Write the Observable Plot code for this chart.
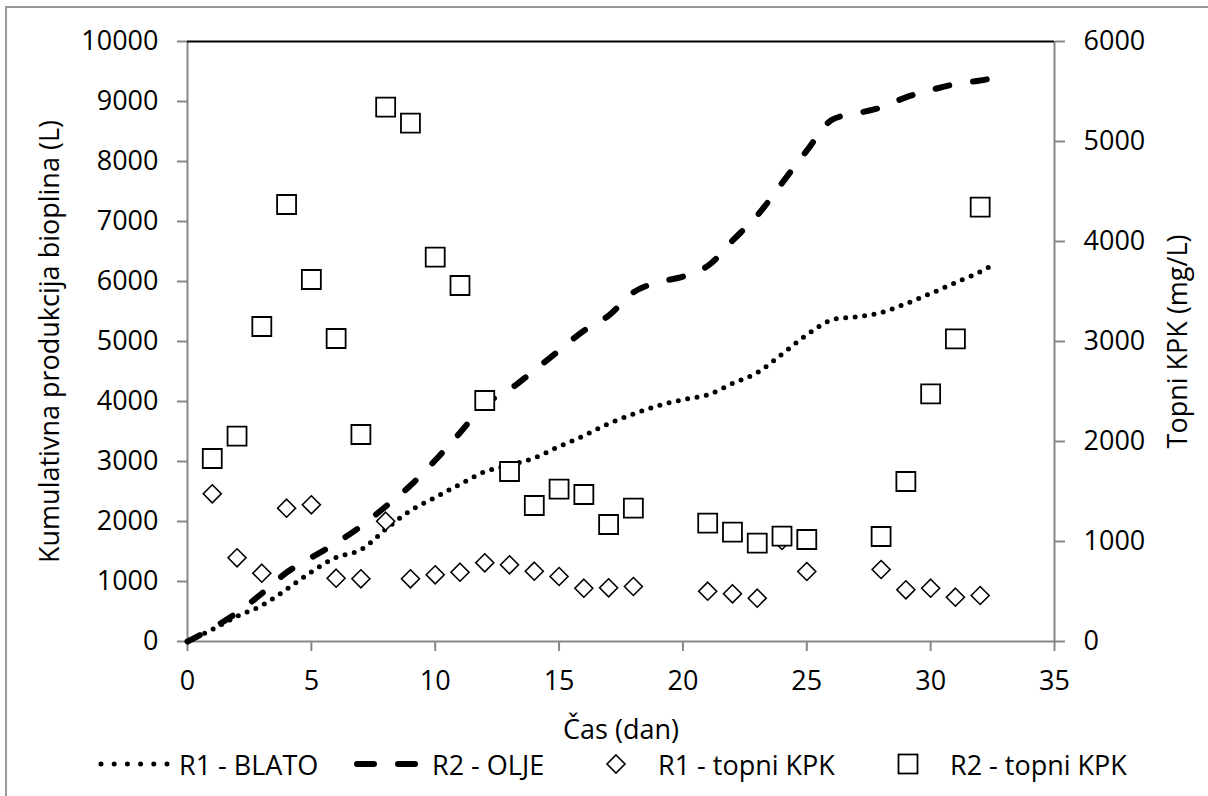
<!DOCTYPE html>
<html>
<head>
<meta charset="utf-8">
<script src="https://cdn.jsdelivr.net/npm/d3@7"></script>
<script src="https://cdn.jsdelivr.net/npm/@observablehq/plot@0.6"></script>
<style>
  body { margin: 0; background: #fff; }
  #wrap { position: relative; width: 1208px; height: 796px; overflow: hidden; background: #fff; font-family: "Open Sans", sans-serif; }
  #frame { position: absolute; left: 5px; top: 6px; width: 1400px; height: 1000px; border: 2px solid #9a9a9a; box-sizing: border-box; }
  #chart { position: absolute; left: 0; top: 0; }
  .lg { position: absolute; top: 744px; height: 40px; display: flex; align-items: center; font-size: 27px; color: #000; white-space: nowrap; }
  .lg svg { display: block; }
</style>
</head>
<body>
<div id="wrap">
  <div id="frame"></div>
  <div id="chart"></div>
  <div class="lg" style="left:96px"><svg width="76" height="12"><line x1="5" x2="71" y1="6" y2="6" stroke="#000" stroke-width="5" stroke-linecap="round" stroke-dasharray="0 13.2"/></svg></div>
  <div class="lg" style="left:179px">R1 - BLATO</div>
  <div class="lg" style="left:350px"><svg width="72" height="12"><line x1="7" x2="65" y1="6" y2="6" stroke="#000" stroke-width="6" stroke-linecap="round" stroke-dasharray="17 24"/></svg></div>
  <div class="lg" style="left:432px">R2 - OLJE</div>
  <div class="lg" style="left:604px"><svg width="24" height="24"><path d="M12,3 L21,12 L12,21 L3,12 Z" fill="#fff" stroke="#000" stroke-width="1.6"/></svg></div>
  <div class="lg" style="left:658px">R1 - topni KPK</div>
  <div class="lg" style="left:896px"><svg width="24" height="24"><rect x="2.5" y="2.5" width="19" height="19" fill="#fff" stroke="#000" stroke-width="1.8"/></svg></div>
  <div class="lg" style="left:950px">R2 - topni KPK</div>
</div>
<script>
// Cumulative biogas production (L), left axis
const lineDays = [0,1,2,3,4,5,6,7,8,9,10,11,12,13,14,15,16,17,18,19,20,21,22,23,24,25,26,27,28,29,30,31,32,32.4];
const r1Blato = [0,200,420,600,870,1160,1400,1530,1870,2180,2400,2620,2830,2940,3060,3250,3430,3630,3790,3930,4030,4110,4300,4480,4790,5110,5360,5410,5480,5630,5800,5980,6160,6250];
const r2Olje  = [0,220,480,800,1150,1400,1640,1920,2250,2600,3020,3480,3950,4200,4520,4850,5180,5430,5820,5990,6080,6260,6680,7100,7640,8180,8690,8800,8900,9070,9190,9290,9350,9380];

// Soluble COD (mg/L), right axis
const kpkDays = [1,2,3,4,5,6,7,8,9,10,11,12,13,14,15,16,17,18,21,22,23,24,25,28,29,30,31,32];
const r1Kpk = [1477,837,683,1333,1367,633,627,1203,627,667,693,787,767,703,650,533,537,550,503,477,433,1010,700,720,517,533,443,460];
const r2Kpk = [1830,2053,3150,4370,3620,3030,2070,5343,5183,3843,3560,2410,1700,1360,1523,1470,1170,1333,1183,1093,983,1053,1020,1050,1600,2477,3027,4343];

const xTicks = [0,5,10,15,20,25,30,35];
const yLeftTicks = [0,1000,2000,3000,4000,5000,6000,7000,8000,9000,10000];
const yRightTicks = [0,1000,2000,3000,4000,5000,6000];
const leftMax = 10000, rightMax = 6000;
const k = leftMax / rightMax; // right-axis value -> left-axis scale

const linesR1 = lineDays.map((d, i) => ({day: d, v: r1Blato[i]}));
const linesR2 = lineDays.map((d, i) => ({day: d, v: r2Olje[i]}));
const ptsR1 = kpkDays.map((d, i) => ({day: d, v: r1Kpk[i] * k}));
const ptsR2 = kpkDays.map((d, i) => ({day: d, v: r2Kpk[i] * k}));

const gray = "#878787";

const chart = Plot.plot({
  width: 1208,
  height: 745,
  marginLeft: 187,
  marginRight: 154,
  marginTop: 41,
  marginBottom: 104,
  style: {background: "transparent", fontFamily: "'Open Sans', sans-serif", fontSize: "27px", color: "#000"},
  x: {domain: [0, 35]},
  y: {domain: [0, leftMax]},
  marks: [
    Plot.axisX({ticks: xTicks, tickSize: 10, tickPadding: 19, stroke: gray, strokeWidth: 2, fill: "#000",
      label: "Čas (dan)", labelAnchor: "center", labelArrow: "none", labelOffset: 97}),
    Plot.axisY({anchor: "left", ticks: yLeftTicks, tickSize: 10, tickPadding: 19, stroke: gray, strokeWidth: 2, fill: "#000",
      tickFormat: d => String(d),
      label: "Kumulativna produkcija bioplina (L)", labelAnchor: "center", labelArrow: "none", labelOffset: 148}),
    Plot.axisY({anchor: "right", ticks: yRightTicks.map(v => v * k), tickSize: 10, tickPadding: 19, stroke: gray, strokeWidth: 2, fill: "#000",
      tickFormat: d => String(Math.round(d / k)),
      label: "Topni KPK (mg/L)", labelAnchor: "center", labelArrow: "none", labelOffset: 132}),
    Plot.ruleX([0, 35], {stroke: gray, strokeWidth: 2}),
    Plot.ruleY([0], {stroke: gray, strokeWidth: 2}),
    Plot.ruleY([leftMax], {stroke: "#000", strokeWidth: 2}),
    Plot.line(linesR1, {x: "day", y: "v", curve: "catmull-rom", stroke: "#000", strokeWidth: 5,
      strokeLinecap: "round", strokeDasharray: "0 9.5"}),
    Plot.line(linesR2, {x: "day", y: "v", curve: "catmull-rom", stroke: "#000", strokeWidth: 6,
      strokeLinecap: "round", strokeDasharray: "14 24"}),
    Plot.dot(ptsR1, {x: "day", y: "v", symbol: "diamond2", r: 8.1, fill: "#fff", stroke: "#000", strokeWidth: 1.6}),
    Plot.dot(ptsR2, {x: "day", y: "v", symbol: "square", r: 10.7, fill: "#fff", stroke: "#000", strokeWidth: 1.8})
  ]
});
document.getElementById("chart").appendChild(chart);
</script>
</body>
</html>
